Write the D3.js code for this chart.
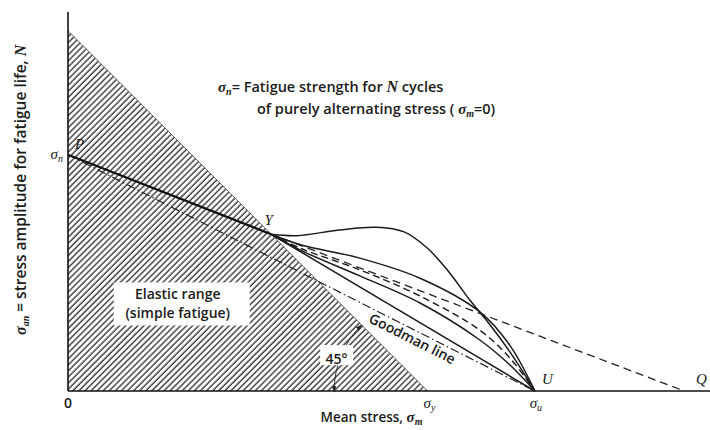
<!DOCTYPE html>
<html>
<head>
<meta charset="utf-8">
<script src="https://cdn.jsdelivr.net/npm/d3@7"></script>
<style>
  body { margin: 0; background: #fff; }
  .lbl { font-family: "Open Sans", sans-serif; font-weight: 600; font-size: 13.5px; fill: #1a1a1a; }
  .it { font-family: "Liberation Serif", serif; font-style: italic; fill: #1a1a1a; }
</style>
</head>
<body>
<div class="container"></div>
<script>
// values in stress units, sigma_u = 100
const sigmaN = 50.5;
const sigmaY = 77;
const sigmaU = 100;
const sigmaQ = 132;
const pointY = [43.5, 33.5];

const elastic = [[0, 0], [0, sigmaY], [sigmaY, 0]];
const lineP = [[0, sigmaN], pointY];
const goodman = [[0, sigmaN], [sigmaU, 0]];
const lineQ = [pointY, [sigmaQ, 0]];

// curves from Y to U
const hump = [pointY, [49, 33.2], [58, 34.4], [66, 35.0], [72, 34.0], [77, 30.5], [81.2, 25.9], [86.1, 19.4], [89.7, 15.0], [94.6, 8.4], [100, 0]];
const curveA = [pointY, [50, 31.2], [62.5, 28.4], [75.4, 24.1], [88.2, 16.9], [94.6, 9.8], [100, 0]];
const curveC = [pointY, [50, 30.4], [62.5, 25.9], [75.4, 20.3], [88.2, 13.0], [94.6, 7.1], [100, 0]];
const curveB = [pointY, [50, 30.0], [62.5, 24.6], [75.4, 18.8], [88.2, 10.9], [94.6, 5.6], [100, 0]];
const curveD = [pointY, [sigmaU, 0]];

const W = 710, H = 430;
const x = d3.scaleLinear().domain([0, 137.5]).range([68, 710]);
const y = d3.scaleLinear().domain([0, 81]).range([391, 12]);

const svg = d3.select(".container").append("svg")
  .attr("width", W).attr("height", H);

const defs = svg.append("defs");
defs.append("pattern")
  .attr("id", "hatch")
  .attr("patternUnits", "userSpaceOnUse")
  .attr("width", 4.3).attr("height", 4.3)
  .attr("patternTransform", "rotate(45)")
  .append("line")
  .attr("x1", 1).attr("y1", 0).attr("x2", 1).attr("y2", 4.3)
  .attr("stroke", "#2a2a2a").attr("stroke-width", 1.3);

defs.append("marker")
  .attr("id", "arr")
  .attr("viewBox", "0 0 10 10")
  .attr("refX", 9).attr("refY", 5)
  .attr("markerWidth", 7).attr("markerHeight", 7)
  .attr("orient", "auto-start-reverse")
  .append("path").attr("d", "M0,1.5L10,5L0,8.5z").attr("fill", "#222");

const line = d3.line().x(d => x(d[0])).y(d => y(d[1]));
const smooth = d3.line().x(d => x(d[0])).y(d => y(d[1])).curve(d3.curveCatmullRom);

// elastic range
svg.append("path")
  .attr("d", line(elastic) + "Z")
  .attr("fill", "url(#hatch)");
svg.append("path")
  .attr("d", line([[0, sigmaY], [sigmaY, 0]]))
  .attr("stroke", "#444").attr("stroke-width", 0.8).attr("fill", "none");

// axes
svg.append("line")
  .attr("x1", x(0)).attr("x2", x(137.5)).attr("y1", y(0)).attr("y2", y(0))
  .attr("stroke", "#111").attr("stroke-width", 1.6);
svg.append("line")
  .attr("x1", x(0)).attr("x2", x(0)).attr("y1", y(0)).attr("y2", y(81))
  .attr("stroke", "#111").attr("stroke-width", 1.6);

// elastic range label
svg.append("rect")
  .attr("x", x(9.8)).attr("y", y(23.2)).attr("width", 136).attr("height", 43)
  .attr("fill", "#fff");
svg.append("text").attr("class", "lbl").attr("x", x(23.5)).attr("y", y(19.6))
  .attr("text-anchor", "middle").style("font-size", "14px").text("Elastic range");
svg.append("text").attr("class", "lbl").attr("x", x(23.5)).attr("y", y(15.6))
  .attr("text-anchor", "middle").style("font-size", "14px").text("(simple fatigue)");

// 45 degree arc
const r = x(sigmaY) - x(57);
const arcPath = d3.path();
arcPath.arc(x(sigmaY), y(0), r, Math.PI - 0.01, Math.PI * 1.25, false);
svg.append("path")
  .attr("d", arcPath.toString())
  .attr("fill", "none").attr("stroke", "#222").attr("stroke-width", 0.9)
  .attr("marker-start", "url(#arr)").attr("marker-end", "url(#arr)");
svg.append("rect")
  .attr("x", x(54)).attr("y", y(9.8)).attr("width", 33).attr("height", 20)
  .attr("fill", "#fff");
svg.append("text").attr("class", "lbl").attr("x", x(57.5)).attr("y", y(5.8))
  .attr("text-anchor", "middle").style("font-size", "14px").text("45°");

// lines
svg.append("path").attr("d", line(goodman))
  .attr("fill", "none").attr("stroke", "#222").attr("stroke-width", 1.2)
  .attr("stroke-dasharray", "9,3,1.5,3");
svg.append("path").attr("d", line(lineQ))
  .attr("fill", "none").attr("stroke", "#222").attr("stroke-width", 1.3)
  .attr("stroke-dasharray", "8,5");
svg.append("path").attr("d", line(lineP))
  .attr("fill", "none").attr("stroke", "#111").attr("stroke-width", 2.3);

[hump, curveA, curveB, curveD].forEach(c => {
  svg.append("path").attr("d", smooth(c))
    .attr("fill", "none").attr("stroke", "#1a1a1a").attr("stroke-width", 1.5);
});
svg.append("path").attr("d", smooth(curveC))
  .attr("fill", "none").attr("stroke", "#1a1a1a").attr("stroke-width", 1.4)
  .attr("stroke-dasharray", "7,4");

// Goodman label, set just under the dash-dot line
const gAng = Math.atan2(y(0) - y(sigmaN), x(sigmaU) - x(0)) * 180 / Math.PI;
svg.append("text").attr("class", "lbl")
  .attr("transform", `translate(${x(64.2)},${y(14.8)}) rotate(${gAng})`)
  .style("font-size", "14px").text("Goodman line");

// point labels
svg.append("text").attr("class", "it").attr("x", x(1.5)).attr("y", y(51.8))
  .style("font-size", "15px").text("P");
svg.append("text").attr("class", "it").attr("x", x(43)).attr("y", y(35.5))
  .attr("text-anchor", "middle").style("font-size", "15px").text("Y");
svg.append("text").attr("class", "it").attr("x", x(101.5)).attr("y", y(1.5))
  .style("font-size", "15px").text("U");
svg.append("text").attr("class", "it").attr("x", x(134.5)).attr("y", y(1.5))
  .style("font-size", "15px").text("Q");

function sigma(xp, yp, sub, anchor) {
  const t = svg.append("text").attr("class", "it").attr("x", xp).attr("y", yp)
    .attr("text-anchor", anchor).style("font-size", "15px");
  t.append("tspan").text("σ");
  t.append("tspan").attr("dy", 3).style("font-size", "10px").text(sub);
}
sigma(x(0) - 5, y(sigmaN) + 4, "n", "end");
sigma(x(sigmaY) + 2, y(0) + 17, "y", "middle");
sigma(x(sigmaU) + 1, y(0) + 17, "u", "middle");
svg.append("text").attr("class", "lbl").attr("x", x(0)).attr("y", y(0) + 17)
  .attr("text-anchor", "middle").style("font-size", "14px").text("0");

// axis titles
const xt = svg.append("text").attr("class", "lbl").attr("x", x(65)).attr("y", 422)
  .attr("text-anchor", "middle");
xt.append("tspan").text("Mean stress, ");
xt.append("tspan").attr("class", "it").style("font-size", "15px").text("σ");
xt.append("tspan").attr("class", "it").attr("dy", 3).style("font-size", "10px").text("m");

const yt = svg.append("text").attr("class", "lbl")
  .attr("transform", `translate(26,${y(43)}) rotate(-90)`)
  .attr("text-anchor", "middle").style("font-size", "15.5px");
yt.append("tspan").attr("class", "it").style("font-size", "16px").text("σ");
yt.append("tspan").attr("class", "it").attr("dy", 3).style("font-size", "10px").text("an");
yt.append("tspan").attr("dy", -3).text(" = stress amplitude for fatigue life, ");
yt.append("tspan").attr("class", "it").style("font-size", "16px").text("N");

// definition note
const n1 = svg.append("text").attr("class", "lbl").attr("x", 218).attr("y", 92)
  .style("font-size", "14.5px");
n1.append("tspan").attr("class", "it").style("font-size", "15px").text("σ");
n1.append("tspan").attr("class", "it").attr("dy", 3).style("font-size", "10px").text("n");
n1.append("tspan").attr("dy", -3).text("= Fatigue strength for ");
n1.append("tspan").attr("class", "it").style("font-size", "16px").text("N");
n1.append("tspan").text(" cycles");
const n2 = svg.append("text").attr("class", "lbl").attr("x", 257).attr("y", 114)
  .style("font-size", "14.5px");
n2.append("tspan").text("of purely alternating stress ( ");
n2.append("tspan").attr("class", "it").style("font-size", "15px").text("σ");
n2.append("tspan").attr("class", "it").attr("dy", 3).style("font-size", "10px").text("m");
n2.append("tspan").attr("dy", -3).text("=0)");
</script>
</body>
</html>
